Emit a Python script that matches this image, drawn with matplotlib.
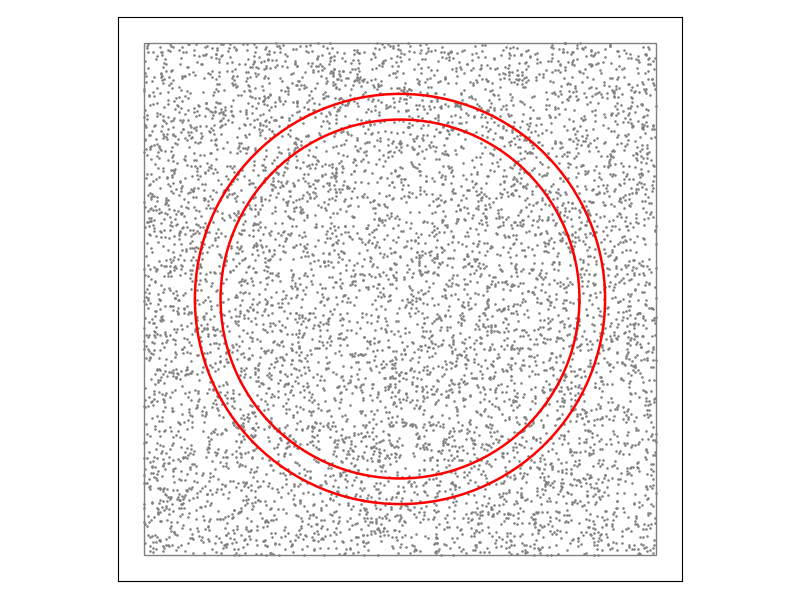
import numpy as np
import matplotlib
matplotlib.use("Agg")
import matplotlib.pyplot as plt
from matplotlib.patches import Circle, Rectangle

# square region of scattered points
x_min, x_max = -1.0, 1.0
y_min, y_max = -1.0, 1.0
n_points = 7500

# two circles sharing a centre
centre = (0.0, 0.0)
radii = [0.8, 0.7]

# the scatter is a uniform noise texture; a fixed seed keeps it repeatable
rng = np.random.default_rng(3)
xs = rng.uniform(x_min, x_max, n_points)
ys = rng.uniform(y_min, y_max, n_points)

fig = plt.figure(figsize=(8, 6), dpi=100)
ax = fig.add_axes([118 / 800, 19 / 600, 564 / 800, 564 / 600])

ax.scatter(xs, ys, s=3.5, c="gray", linewidths=0)
ax.add_patch(Rectangle((x_min, y_min), x_max - x_min, y_max - y_min,
                       fill=False, edgecolor="gray", lw=1))
for r in radii:
    ax.add_patch(Circle(centre, r, fill=False, edgecolor="red", lw=1.8))

ax.set_xlim(-1.1, 1.1)
ax.set_ylim(-1.1, 1.1)
ax.set_aspect("equal")
ax.set_xticks([])
ax.set_yticks([])

fig.savefig("out.png")
